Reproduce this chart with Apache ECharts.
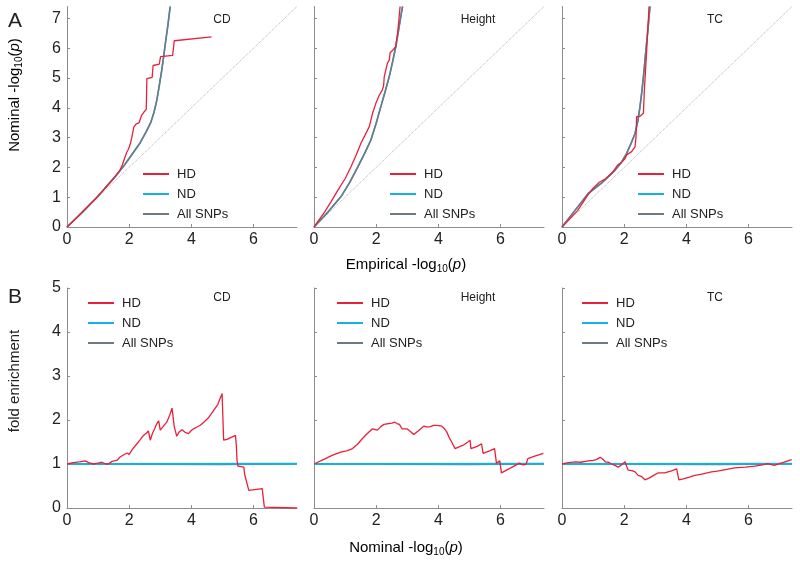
<!DOCTYPE html>
<html>
<head>
<meta charset="utf-8">
<script src="https://cdn.jsdelivr.net/npm/echarts@6/dist/echarts.min.js"></script>
<style>
  html, body { margin: 0; padding: 0; background: #fff; }
  #chart { width: 800px; height: 568px; }
</style>
</head>
<body>
<div id="chart"></div>
<script>
// panel names, left to right
const panels = ['CD', 'Height', 'TC'];
const seriesNames = ['HD', 'ND', 'All SNPs'];
const xTicks = [0, 2, 4, 6];

// A: QQ curves, [empirical -log10 p, nominal -log10 p]
const hdQqCd = [[0,0],[0.3,0.3],[0.6,0.62],[0.9,0.93],[1.2,1.27],[1.4,1.5],[1.55,1.7],[1.7,1.9],[1.78,2.08],[1.85,2.3],[1.92,2.5],[1.98,2.62],[2.04,2.8],[2.08,2.98],[2.12,3.0],[2.15,3.35],[2.22,3.45],[2.32,3.5],[2.4,3.75],[2.47,3.85],[2.55,3.95],[2.57,4.98],[2.74,5.02],[2.77,5.42],[2.97,5.47],[3.01,5.72],[3.4,5.76],[3.45,6.25],[4.65,6.38]];
const allQqCd = [[0,0],[0.5,0.5],[1,1.03],[1.3,1.4],[1.6,1.75],[1.85,2.08],[2.1,2.45],[2.35,2.82],[2.55,3.2],[2.7,3.52],[2.8,3.85],[2.89,4.26],[2.97,4.75],[3.05,5.27],[3.12,5.8],[3.17,6.2],[3.25,6.8],[3.32,7.4]];
const hdQqHeight = [[0,0],[0.34,0.5],[0.55,0.85],[0.77,1.24],[1.0,1.62],[1.19,2.02],[1.35,2.4],[1.51,2.81],[1.65,3.1],[1.78,3.37],[1.88,3.8],[1.99,4.15],[2.1,4.42],[2.2,4.6],[2.24,4.75],[2.26,5.04],[2.3,5.1],[2.36,5.49],[2.42,5.6],[2.45,5.85],[2.55,5.95],[2.63,6.05],[2.7,6.6],[2.77,7.4]];
const allQqHeight = [[0,0],[0.45,0.5],[0.87,1.02],[1.15,1.5],[1.41,2.02],[1.63,2.47],[1.83,2.92],[2.0,3.48],[2.15,4.04],[2.29,4.55],[2.42,5.04],[2.53,5.55],[2.63,6.05],[2.72,6.6],[2.81,7.17],[2.85,7.4]];
const hdQqTc = [[0,0],[0.5,0.55],[0.85,1.1],[1.0,1.3],[1.2,1.5],[1.4,1.62],[1.6,1.8],[1.75,2.02],[1.81,2.1],[1.95,2.2],[2.03,2.3],[2.08,2.42],[2.24,2.53],[2.35,2.69],[2.38,3.0],[2.4,3.7],[2.51,3.72],[2.62,3.82],[2.65,4.6],[2.72,5.83],[2.8,7.4]];
const allQqTc = [[0,0],[0.45,0.6],[0.85,1.13],[1.3,1.5],[1.71,1.91],[1.9,2.15],[2.08,2.47],[2.22,2.8],[2.35,3.14],[2.44,3.55],[2.51,4.04],[2.57,4.55],[2.62,5.04],[2.67,5.6],[2.72,6.16],[2.78,6.8],[2.83,7.4]];
const diagonal = [[0,0],[7.4,7.4]];

// B: fold enrichment, [nominal -log10 p, fold]
const hdFoldCd = [[0,1.0],[0.2,1.03],[0.4,1.05],[0.58,1.07],[0.7,1.03],[0.85,1.0],[1.0,1.02],[1.12,1.04],[1.25,1.0],[1.33,1.0],[1.45,1.06],[1.5,1.1],[1.6,1.08],[1.71,1.16],[1.8,1.2],[1.85,1.16],[1.93,1.25],[2.0,1.22],[2.09,1.32],[2.15,1.35],[2.25,1.46],[2.35,1.55],[2.46,1.65],[2.55,1.7],[2.62,1.75],[2.68,1.54],[2.75,1.7],[2.82,1.8],[2.89,1.92],[2.95,1.98],[3.0,1.77],[3.05,1.8],[3.15,1.9],[3.21,1.95],[3.3,2.1],[3.38,2.27],[3.45,1.85],[3.48,1.77],[3.53,1.63],[3.6,1.72],[3.7,1.78],[3.8,1.72],[3.91,1.69],[4.0,1.76],[4.07,1.8],[4.18,1.84],[4.29,1.88],[4.4,1.95],[4.45,1.99],[4.55,2.05],[4.72,2.22],[4.85,2.35],[4.99,2.6],[5.04,1.54],[5.15,1.56],[5.42,1.65],[5.45,1.4],[5.47,1.08],[5.5,0.95],[5.69,0.93],[5.72,0.75],[5.85,0.4],[6.28,0.44],[6.35,0.02],[6.4,0.0],[7.4,0.0]];
const hdFoldHeight = [[0,1.0],[0.3,1.1],[0.6,1.2],[0.86,1.27],[1.05,1.3],[1.24,1.35],[1.4,1.45],[1.56,1.58],[1.7,1.68],[1.88,1.8],[2.04,1.77],[2.15,1.85],[2.25,1.9],[2.4,1.92],[2.51,1.93],[2.6,1.95],[2.67,1.92],[2.75,1.9],[2.83,1.8],[2.99,1.8],[3.1,1.74],[3.21,1.67],[3.35,1.75],[3.53,1.86],[3.65,1.84],[3.74,1.85],[3.85,1.88],[3.95,1.88],[4.11,1.86],[4.2,1.8],[4.27,1.73],[4.35,1.6],[4.43,1.5],[4.54,1.35],[4.7,1.4],[4.81,1.43],[4.95,1.5],[5.02,1.54],[5.05,1.35],[5.25,1.4],[5.39,1.46],[5.44,1.24],[5.65,1.3],[5.81,1.35],[5.87,1.02],[5.98,1.07],[6.03,0.8],[6.3,0.9],[6.61,1.02],[6.72,0.98],[6.82,0.99],[6.88,1.12],[7.1,1.18],[7.38,1.24]];
const hdFoldTc = [[0,1.0],[0.2,1.03],[0.43,1.05],[0.6,1.04],[0.85,1.07],[1.0,1.08],[1.1,1.1],[1.23,1.15],[1.3,1.12],[1.39,1.05],[1.5,1.04],[1.6,1.0],[1.7,0.97],[1.81,0.93],[1.9,0.97],[2.03,1.05],[2.08,0.95],[2.13,0.86],[2.25,0.85],[2.35,0.82],[2.45,0.74],[2.55,0.72],[2.67,0.64],[2.8,0.68],[2.95,0.74],[3.1,0.8],[3.3,0.8],[3.5,0.84],[3.69,0.89],[3.76,0.64],[3.9,0.66],[4.1,0.7],[4.27,0.74],[4.5,0.77],[4.81,0.82],[5.0,0.84],[5.3,0.88],[5.55,0.91],[5.9,0.93],[6.2,0.95],[6.45,0.98],[6.62,1.01],[6.83,0.97],[7.1,1.03],[7.39,1.1]];
const ndFold = [[0,1.0],[7.4,1.005]];
const allFold = [[0,1.0],[2,0.995],[5,0.99],[7.4,1.0]];

const hdQq = [hdQqCd, hdQqHeight, hdQqTc];
const allQq = [allQqCd, allQqHeight, allQqTc];
const hdFold = [hdFoldCd, hdFoldHeight, hdFoldTc];

const RED = '#e8213a', CYAN = '#17b0e2', GRAY = '#6d7a84', AXIS = '#8c8c8c';
const FONT = '"Liberation Sans", Arial, sans-serif';

const lefts = [67, 314, 562];
const grids = [], xAxes = [], yAxes = [], series = [], legends = [];

function line(name, g, data, color, width, z) {
    return {
        name: name, type: 'line', xAxisIndex: g, yAxisIndex: g,
        data: data, symbol: 'none', animation: false, silent: true, z: z,
        lineStyle: { color: color, width: width },
        itemStyle: { color: color }
    };
}

for (let g = 0; g < 6; g++) {
    const top = g < 3;
    const col = g % 3;
    grids.push({ left: lefts[col], width: 230, top: top ? 6.5 : 288, height: top ? 220.5 : 220 });
    const axisBase = {
        gridIndex: g, type: 'value', min: 0,
        axisLine: { show: true, lineStyle: { color: AXIS, width: 1 } },
        axisTick: { show: true, inside: true, length: 3, lineStyle: { color: AXIS } },
        splitLine: { show: false },
        axisLabel: { color: '#222', fontSize: 16, fontFamily: FONT }
    };
    xAxes.push(Object.assign({}, axisBase, {
        max: 7.4,
        axisTick: Object.assign({}, axisBase.axisTick, { customValues: xTicks }),
        axisLabel: Object.assign({}, axisBase.axisLabel, { customValues: xTicks, margin: 5 })
    }));
    const yMax = top ? 7.4 : 5;
    const yTicks = top ? [0, 1, 2, 3, 4, 5, 6, 7] : [0, 1, 2, 3, 4, 5];
    yAxes.push(Object.assign({}, axisBase, {
        max: yMax,
        axisTick: Object.assign({}, axisBase.axisTick, { customValues: yTicks }),
        axisLabel: Object.assign({}, axisBase.axisLabel, { customValues: yTicks, show: col === 0, margin: 6 })
    }));

    if (top) {
        series.push(Object.assign(line('diag', g, diagonal, '#b0b0b0', 1, 1), { lineStyle: { color: '#b0b0b0', width: 1, type: 'dotted' } }));
        series.push(line('ND', g, allQq[col], CYAN, 1.5, 2));
        series.push(line('All SNPs', g, allQq[col], GRAY, 1.6, 3));
        series.push(line('HD', g, hdQq[col], RED, 1.3, 4));
    } else {
        series.push(line('All SNPs', g, allFold, GRAY, 1.5, 2));
        series.push(line('ND', g, ndFold, CYAN, 2, 3));
        series.push(line('HD', g, hdFold[col], RED, 1.3, 4));
    }

    const legLeft = top ? [143, 390, 638][col] : [88, 337, 582][col];
    legends.push({
        data: seriesNames, orient: 'vertical', left: legLeft, top: top ? 167 : 296,
        icon: 'rect', itemWidth: 26, itemHeight: 2, itemGap: 6, padding: 0, selectedMode: false,
        textStyle: { fontSize: 13, lineHeight: 14, fontFamily: FONT, color: '#222', padding: [0, 0, 0, 3] }
    });
}

const rich = {
    n: { fontSize: 15, fontFamily: FONT, color: '#222', lineHeight: 20 },
    s: { fontSize: 10, fontFamily: FONT, color: '#222', lineHeight: 20, padding: [9, 0, 0, 0] },
    i: { fontSize: 15, fontFamily: FONT, color: '#222', fontStyle: 'italic', lineHeight: 20 }
};
const logLabel = (word) => '{n|' + word + ' -log}{s|10}{n|(}{i|p}{n|)}';

function text(str, x, y, size, extra) {
    return Object.assign({
        type: 'text', x: x, y: y, silent: true,
        style: { text: str, fontSize: size, fontFamily: FONT, fill: '#222', align: 'center', verticalAlign: 'middle' }
    }, extra || {});
}

const graphics = [
    text('A', 15, 21, 21),
    text('B', 15, 297, 21),
    { type: 'text', x: 406, y: 265, silent: true, style: { text: logLabel('Empirical'), rich: rich, align: 'center', verticalAlign: 'middle' } },
    { type: 'text', x: 406, y: 548, silent: true, style: { text: logLabel('Nominal'), rich: rich, align: 'center', verticalAlign: 'middle' } },
    { type: 'text', x: 15, y: 95, rotation: Math.PI / 2, silent: true, style: { text: logLabel('Nominal'), rich: rich, align: 'center', verticalAlign: 'middle' } },
    text('fold enrichment', 15, 381, 15, { rotation: Math.PI / 2 })
];
const titleX = [222, 478, 715];
panels.forEach((p, i) => {
    graphics.push(text(p, titleX[i], 20, 12));
    graphics.push(text(p, titleX[i], 298, 12));
});

const chart = echarts.init(document.getElementById('chart'), null, { renderer: 'canvas' });
chart.setOption({
    backgroundColor: '#fff',
    animation: false,
    grid: grids,
    xAxis: xAxes,
    yAxis: yAxes,
    legend: legends,
    series: series,
    graphic: graphics
});
</script>
</body>
</html>
